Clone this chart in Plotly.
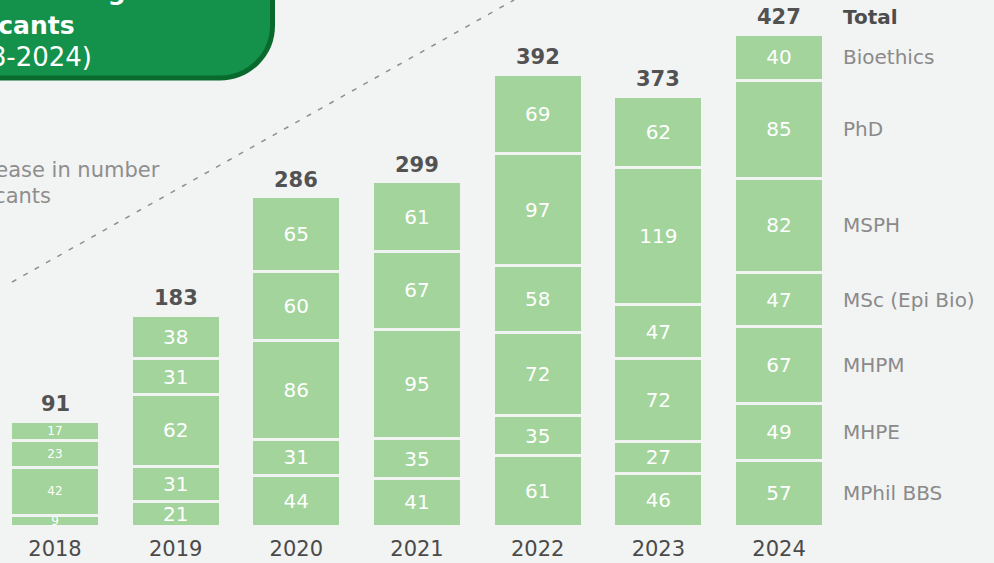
import plotly.graph_objects as go

years = ["2018", "2019", "2020", "2021", "2022", "2023", "2024"]

# applicants per programme, each list stacked from the bottom up
seg_2018 = [9, 42, 23, 17]
seg_2019 = [21, 31, 62, 31, 38]
seg_2020 = [44, 31, 86, 60, 65]
seg_2021 = [41, 35, 95, 67, 61]
seg_2022 = [61, 35, 72, 58, 97, 69]
seg_2023 = [46, 27, 72, 47, 119, 62]
seg_2024 = [57, 49, 67, 47, 82, 85, 40]

programs = ["MPhil BBS", "MHPE", "MHPM", "MSc (Epi Bio)", "MSPH", "PhD", "Bioethics"]

segments = [seg_2018, seg_2019, seg_2020, seg_2021, seg_2022, seg_2023, seg_2024]
totals = [sum(s) for s in segments]

W, H = 994, 563
BOTTOM = 37
PLOT_H = H - BOTTOM
BG = "#f2f3f3"
BAR = "#a2d49c"
FONT = "DejaVu Sans"


def px(x, y):
    # pixel position -> paper coords (plot area spans full width, top at 0)
    return x / W, (PLOT_H - y) / PLOT_H


fig = go.Figure()

for k in range(max(len(s) for s in segments)):
    vals = [s[k] if k < len(s) else None for s in segments]
    fig.add_trace(go.Bar(
        x=years,
        y=vals,
        text=[str(v) if v is not None else "" for v in vals],
        textposition="inside",
        insidetextanchor="middle",
        constraintext="none",
        textangle=0,
        textfont=dict(family=FONT, color="white",
                      size=[12 if yr == "2018" else 20 for yr in years]),
        marker=dict(color=BAR, line=dict(color=BG, width=3)),
        width=0.738,
        hoverinfo="skip",
    ))

annotations = []
for i, tot in enumerate(totals):
    annotations.append(dict(
        x=i, y=tot, text=f"<b>{tot}</b>", showarrow=False,
        yanchor="middle", yshift=17,
        font=dict(family=FONT, size=21, color="#525252"),
    ))

last = len(years) - 1
annotations.append(dict(
    x=last, y=totals[-1], text="<b>Total</b>", showarrow=False,
    xanchor="left", xshift=62, yanchor="middle", yshift=17,
    font=dict(family=FONT, size=20, color="#4d4d4d"),
))

cum = 0
for name, v in zip(programs, seg_2024):
    annotations.append(dict(
        x=last, y=cum + v / 2, text=name, showarrow=False,
        xanchor="left", xshift=62, yanchor="middle",
        font=dict(family=FONT, size=20, color="#8a8a8a"),
    ))
    cum += v

# title pill text (cropped on the left like the source)
for txt, xr, yc, bold, size in [("Graduate Program", 183, -9, True, 25),
                                ("Applicants", 77, 25, True, 25),
                                ("(2018-2024)", 94, 57, False, 26)]:
    x, y = px(xr, yc)
    annotations.append(dict(
        xref="paper", yref="paper", x=x, y=y,
        text=f"<b>{txt}</b>" if bold else txt, showarrow=False,
        xanchor="right", yanchor="middle",
        font=dict(family=FONT, size=size, color="white"),
    ))

for txt, xr, yc in [("Increase in number", 162, 170), ("of applicants", 53, 196)]:
    x, y = px(xr, yc)
    annotations.append(dict(
        xref="paper", yref="paper", x=x, y=y, text=txt, showarrow=False,
        xanchor="right", yanchor="middle",
        font=dict(family=FONT, size=21, color="#8e8e8e"),
    ))

# pill outline: straight right edge, rounded bottom-right corner
k = 0.5523
r = 52.5
cx, cy = 220, 25.5
pts = [(-30, -80), (cx + r, -80), (cx + r, cy),
       (cx + r, cy + r * k), (cx + r * k, cy + r), (cx, cy + r),
       (-30, cy + r)]
p = [px(*q) for q in pts]
path = (f"M {p[0][0]},{p[0][1]} L {p[1][0]},{p[1][1]} L {p[2][0]},{p[2][1]} "
        f"C {p[3][0]},{p[3][1]} {p[4][0]},{p[4][1]} {p[5][0]},{p[5][1]} "
        f"L {p[6][0]},{p[6][1]} Z")

x0, y0 = px(12, 282)
x1, y1 = px(514, 0)

fig.update_layout(
    width=W, height=H,
    margin=dict(l=0, r=0, t=0, b=BOTTOM, pad=0),
    paper_bgcolor=BG, plot_bgcolor=BG,
    barmode="stack",
    showlegend=False,
    xaxis=dict(type="category", range=[-0.4558, 7.7816], showgrid=False,
               zeroline=False, showline=False, ticks="", ticklabelstandoff=8,
               tickfont=dict(family=FONT, size=21, color="#4a4a4a")),
    yaxis=dict(range=[0, PLOT_H / 1.152], visible=False),
    annotations=annotations,
    shapes=[
        dict(type="path", xref="paper", yref="paper", path=path,
             fillcolor="#14914a", line=dict(color="#086a2d", width=5), layer="below"),
        dict(type="line", xref="paper", yref="paper", x0=x0, y0=y0, x1=x1, y1=y1,
             line=dict(color="#8f8f8f", width=1.5, dash="5px,8px")),
    ],
)

fig.write_html("out.html", config={"displayModeBar": False},
               post_script="document.body.style.margin='0';")
